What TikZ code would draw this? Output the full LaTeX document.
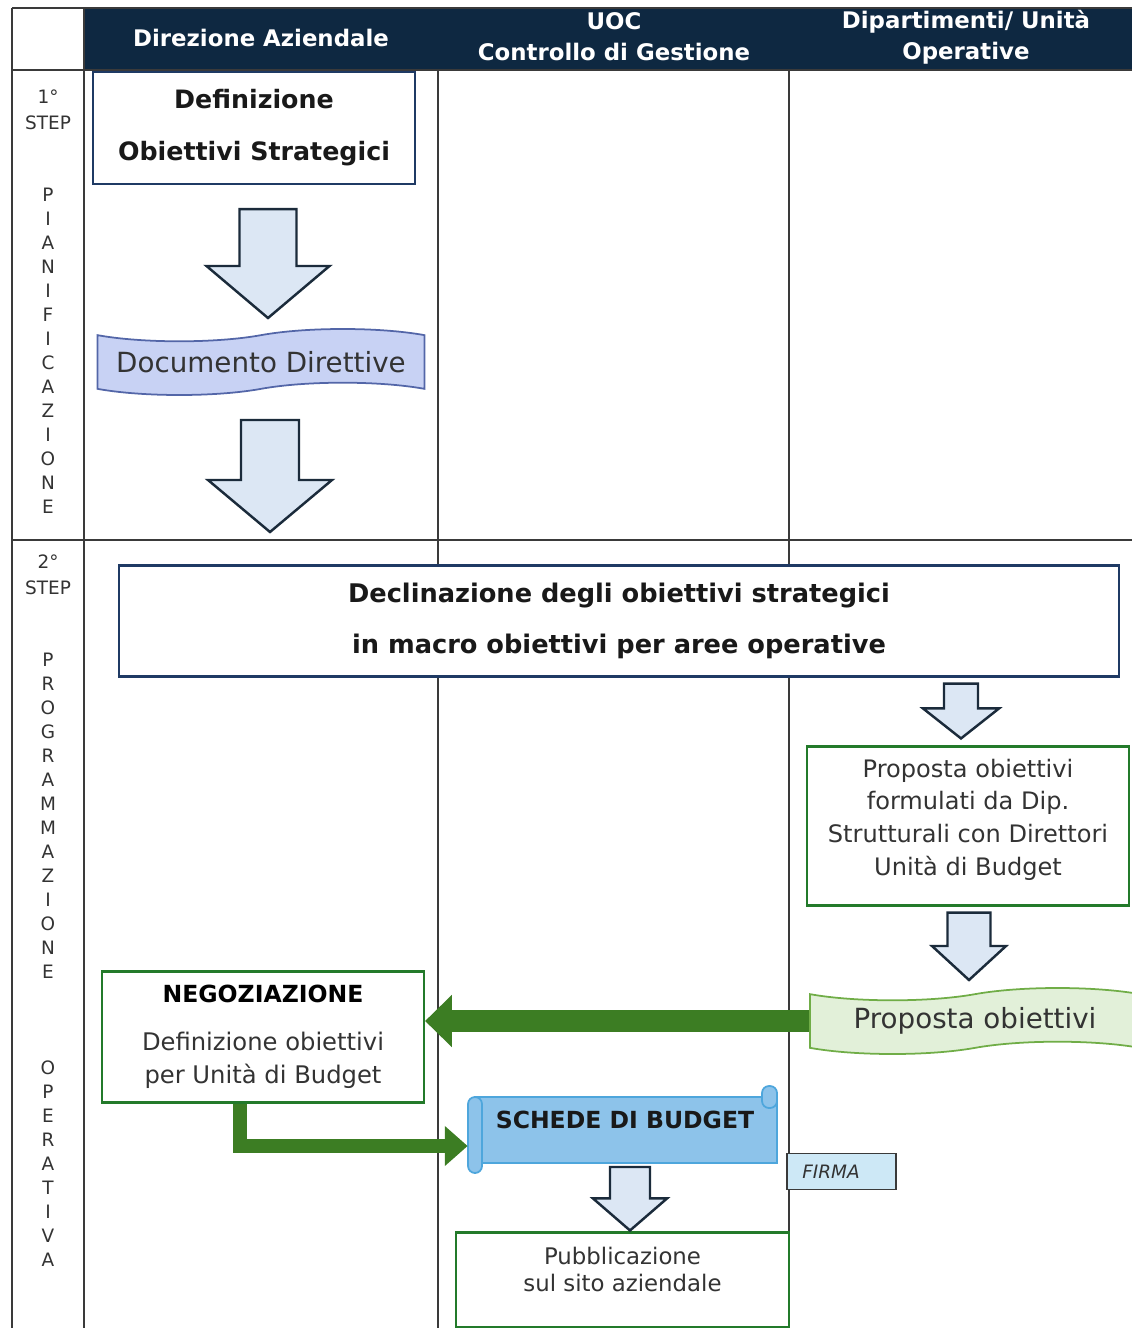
\documentclass[tikz,border=0pt]{standalone}
\usepackage{fontspec}
\setmainfont{DejaVu Sans}
\usetikzlibrary{arrows.meta,calc,shapes.symbols}

\definecolor{navy}{HTML}{0E2841}
\definecolor{gridgray}{HTML}{3A3A3A}
\definecolor{boxblue}{HTML}{1F3A64}
\definecolor{arrfill}{HTML}{DCE7F4}
\definecolor{arrline}{HTML}{1B2B3B}
\definecolor{docblue}{HTML}{C8D2F4}
\definecolor{docblueline}{HTML}{5366A8}
\definecolor{boxgreen}{HTML}{237A2A}
\definecolor{arrgreen}{HTML}{3C7D23}
\definecolor{docgreen}{HTML}{E2F0D9}
\definecolor{docgreenline}{HTML}{70AD47}
\definecolor{scrollfill}{HTML}{8DC3EA}
\definecolor{scrollline}{HTML}{4EA6DC}
\definecolor{firmafill}{HTML}{CDE8F6}
\definecolor{txtgray}{HTML}{333333}

\def\px{0.02cm}

\tikzset{
    grid/.style={gridgray, line width=1.1pt},
    headtxt/.style={text=white, align=center, font=\bfseries\fontsize{13}{17.5}\selectfont},
    steplbl/.style={text=txtgray, align=center, inner sep=0pt, font=\fontsize{10.5}{14.7}\selectfont},
    bluebox/.style={draw=boxblue, line width=1.2pt, fill=white, align=center, inner sep=0pt, text=black!90},
    greenbox/.style={draw=boxgreen, line width=1.2pt, fill=white, align=center, inner sep=0pt, text=txtgray},
    docshape/.style={tape, tape bend height=7pt, line width=1pt, inner sep=0pt, text=txtgray,
        minimum width=327*\px, minimum height=66*\px, font=\fontsize{15.8}{18}\selectfont},
    blockarr/.style={fill=arrfill, draw=arrline, line width=1.4pt, line join=miter},
    greenarr/.style={draw=arrgreen, line join=miter},
}

% down block arrow: top, tip, shaft half width, head half width, head length (px)
\newcommand{\blockdown}[5]{%
    \draw[blockarr] let \p1=(#1), \p2=(#2) in
        (\x1-#3*\px,\y1) -- (\x1+#3*\px,\y1) -- (\x1+#3*\px,\y2+#5*\px)
        -- (\x1+#4*\px,\y2+#5*\px) -- (\x1,\y2) -- (\x1-#4*\px,\y2+#5*\px)
        -- (\x1-#3*\px,\y2+#5*\px) -- cycle;
}

\begin{document}
\begin{tikzpicture}[x=\px, y=-\px]
    \useasboundingbox (0,0) rectangle (1132,1328);

    % table
    \fill[navy] (84,8) rectangle (1132,70);
    \draw[grid] (12,8) -- (1132,8) (12,70) -- (1132,70) (12,540) -- (1132,540);
    \draw[grid] (12,8) -- (12,1328) (84,8) -- (84,1328)
        (438,70) -- (438,1328) (789,70) -- (789,1328);

    \node[headtxt] (hdir) at (261,38) {Direzione Aziendale};
    \node[headtxt] (huoc) at (614,37) {UOC\\Controllo di Gestione};
    \node[headtxt] (hdip) at (966,37) {Dipartimenti/ Unità\\Operative};

    % step column
    \node[steplbl] (step1) at (48,110) {1°\\STEP};
    \foreach \l [count=\i from 0] in {P,I,A,N,I,F,I,C,A,Z,I,O,N,E}
        \node[steplbl] (pian\i) at (48,195+24*\i) {\l};
    \node[steplbl] (step2) at (48,575) {2°\\STEP};
    \foreach \l [count=\i from 0] in {P,R,O,G,R,A,M,M,A,Z,I,O,N,E}
        \node[steplbl] (prog\i) at (48,660+24*\i) {\l};
    \foreach \l [count=\i from 0] in {O,P,E,R,A,T,I,V,A}
        \node[steplbl] (oper\i) at (48,1068+24*\i) {\l};

    % 1st step
    \node[bluebox, minimum width=322*\px, minimum height=112*\px,
        font=\bfseries\fontsize{14.4}{29.5}\selectfont] (defobj) at (254,128)
        {Definizione\\Obiettivi Strategici};
    \node[docshape, fill=docblue, draw=docblueline] (docdir) at (261,362) {Documento Direttive};
    \blockdown{$(defobj.south)+(14,24)$}{$(docdir.center)+(7,-44)$}{28.5}{61.5}{52}
    \blockdown{$(docdir.center)+(9,58)$}{$(docdir.center)+(9,170)$}{29}{62}{52}

    % 2nd step
    \node[bluebox, minimum width=1000*\px, minimum height=111*\px,
        font=\bfseries\fontsize{14.6}{29.5}\selectfont] (decl) at (619,621)
        {Declinazione degli obiettivi strategici\\in macro obiettivi per aree operative};
    \node[greenbox, minimum width=322*\px, minimum height=159*\px, text depth=10pt,
        font=\fontsize{13.7}{18.7}\selectfont] (propform) at (968,826)
        {Proposta obiettivi\\formulati da Dip.\\Strutturali con Direttori\\Unità di Budget};
    \node[docshape, fill=docgreen, draw=docgreenline, minimum width=330*\px] (propdoc) at (975,1021)
        {Proposta obiettivi};
    \node[greenbox, minimum width=322*\px, minimum height=131*\px,
        font=\fontsize{13.8}{18.7}\selectfont] (nego) at (263,1037)
        {\textbf{\color{black}\fontsize{13.4}{16}\selectfont NEGOZIAZIONE}\\[8.5pt]Definizione obiettivi\\per Unità di Budget};

    \blockdown{$(decl.south)+(342,6)$}{$(propform.north)+(-8,-7)$}{17}{38}{30}
    \blockdown{$(propform.south)+(1,6)$}{$(propdoc.center)+(-5,-41)$}{21.5}{37}{34}

    \draw[greenarr, line width=12.5pt, -{Triangle[width=28.9pt, length=15.3pt]}]
        (propdoc.west) -- (propdoc.west -| nego.east);

    % schede di budget
    \coordinate (schedec) at (625,1120);
    \begin{scope}[shift={(schedec)}, draw=scrollline, fill=scrollfill, line width=1pt]
        \filldraw (-150,-23) rectangle (152,43);
        \filldraw[rounded corners=7*\px] (-157,-23) rectangle (-143,53);
        \filldraw[rounded corners=7*\px] (137,-34) rectangle (152,-12);
    \end{scope}
    \node[minimum width=310*\px, minimum height=46*\px, inner sep=0pt, text=black!90,
        font=\bfseries\fontsize{13.4}{16}\selectfont] (schede) at (schedec) {SCHEDE DI BUDGET};

    \draw[greenarr, line width=8.5pt, -{Triangle[width=22pt, length=13pt]}]
        ($(nego.south)+(-23,0)$) |- ($(schede.west)+(-2,26)$);

    \node[draw=gridgray, fill=firmafill, line width=1pt, minimum width=109*\px, minimum height=36*\px,
        inner sep=0pt, text=txtgray, font=\itshape\fontsize{10.5}{12}\selectfont] (firma) at (841.5,1171.5) {FIRMA\kern12pt};

    \node[greenbox, minimum width=333*\px, minimum height=95*\px, text depth=12pt,
        font=\fontsize{13}{15.3}\selectfont] (pubbl) at (622.5,1280)
        {Pubblicazione\\sul sito aziendale};
    \blockdown{$(schede.center)+(5,47)$}{$(pubbl.north)+(8,-1)$}{20}{37}{32}
\end{tikzpicture}
\end{document}
